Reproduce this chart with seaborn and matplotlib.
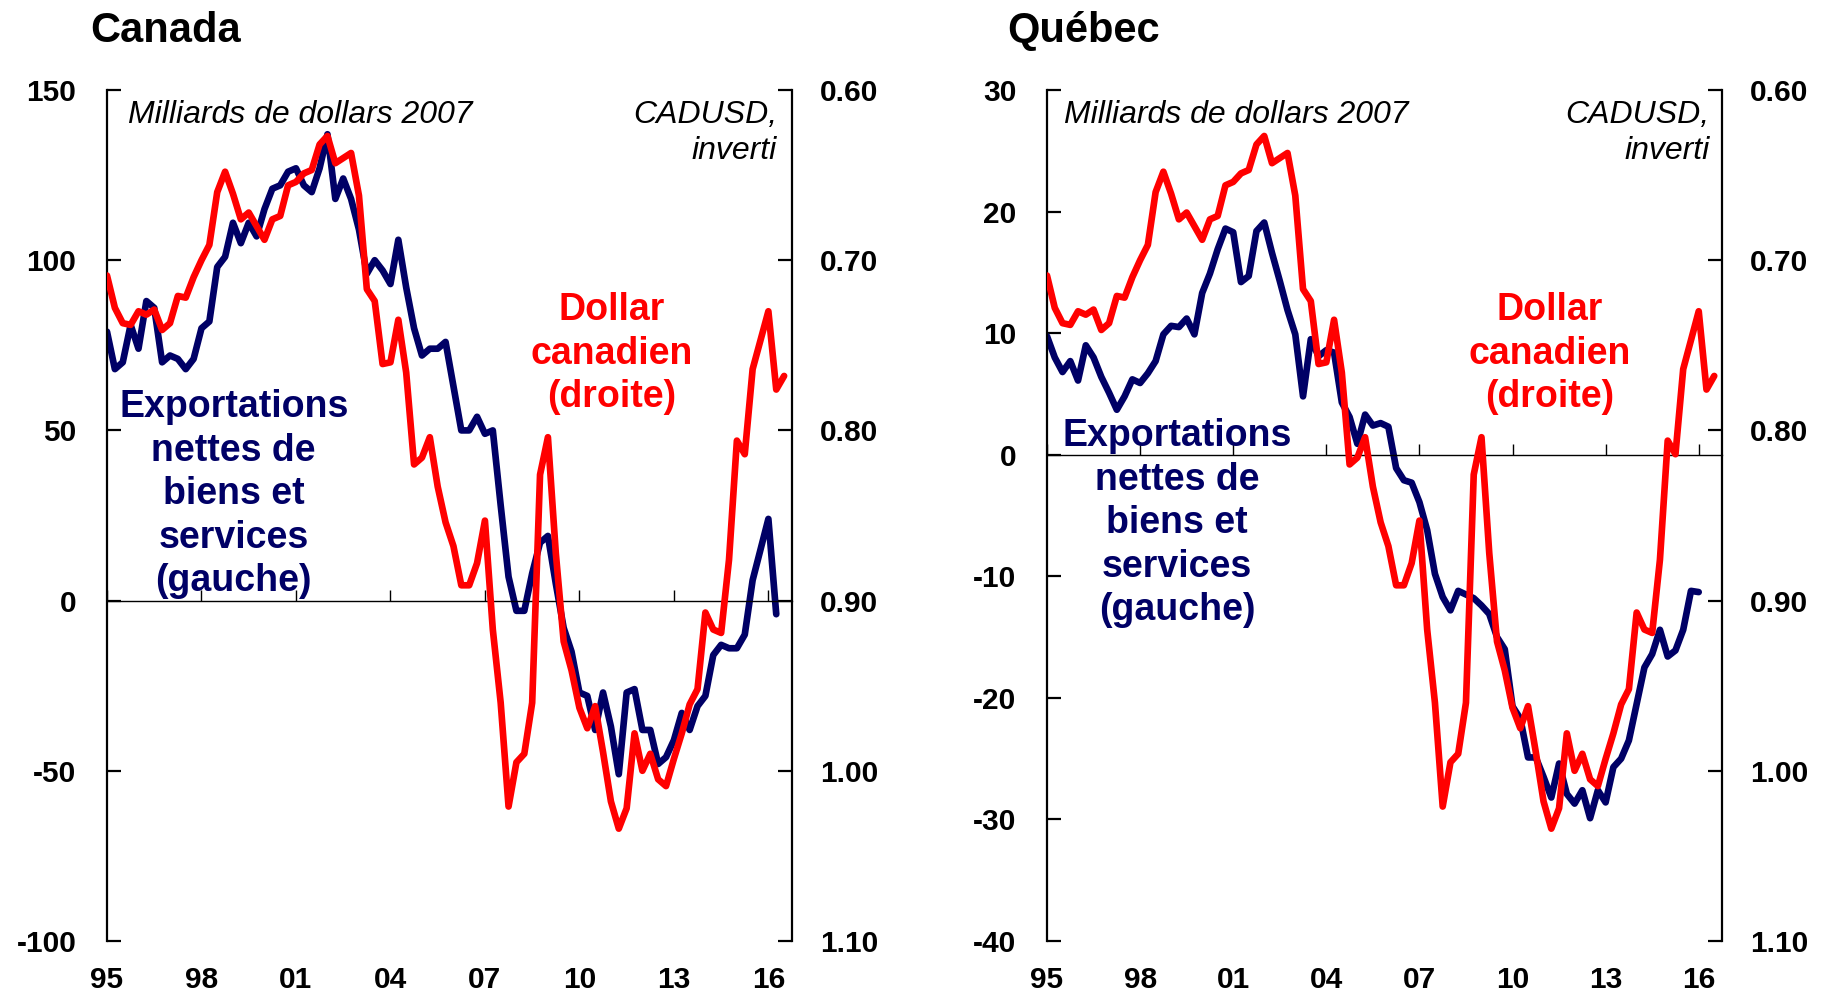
import numpy as np
import pandas as pd
import matplotlib
matplotlib.use('Agg')
import matplotlib.pyplot as plt
import seaborn as sns

# quarterly series, first point = 1995Q1
canada_nx = [79, 68, 70, 81, 74, 88, 86, 70, 72, 71,
             68, 71, 80, 82, 98, 101, 111, 105, 111, 107,
             115, 121, 122, 126, 127, 122, 120, 127, 137, 118,
             124, 118, 109, 96, 100, 97, 93, 106, 92, 80,
             72, 74, 74, 76, 63, 50, 50, 54, 49, 50,
             28, 7, -3, -3, 8, 17, 19, 5, -8, -15,
             -27, -28, -38, -27, -37, -51, -27, -26, -38, -38,
             -48, -46, -41, -33, -38, -31, -28, -16, -13, -14,
             -14, -10, 6, 15, 24, -4]

quebec_nx = [9.75, 8.0, 6.8, 7.7, 6.1, 9.0, 8.0, 6.4, 5.1, 3.7,
             4.8, 6.2, 5.9, 6.7, 7.7, 9.9, 10.6, 10.5, 11.2, 9.9,
             13.3, 14.9, 16.9, 18.6, 18.3, 14.2, 14.7, 18.4, 19.1, 16.6,
             14.3, 11.9, 9.9, 4.8, 9.5, 8.1, 8.6, 8.4, 4.3, 3.1,
             0.9, 3.3, 2.4, 2.6, 2.3, -1.1, -2.1, -2.3, -3.9, -6.2,
             -9.8, -11.7, -12.8, -11.2, -11.5, -11.8, -12.4, -13.1, -15.0, -16.0,
             -20.7, -21.7, -24.9, -24.9, -26.5, -28.2, -25.4, -27.9, -28.7, -27.6,
             -29.9, -27.6, -28.6, -25.7, -25.0, -23.5, -20.5, -17.5, -16.4, -14.4,
             -16.6, -16.1, -14.4, -11.2, -11.3]

cadusd = [0.709, 0.728, 0.737, 0.738, 0.730, 0.732, 0.729, 0.741, 0.737, 0.721,
          0.722, 0.710, 0.700, 0.691, 0.660, 0.648, 0.661, 0.676, 0.672, 0.680,
          0.688, 0.676, 0.674, 0.656, 0.654, 0.649, 0.647, 0.632, 0.627, 0.643,
          0.640, 0.637, 0.662, 0.717, 0.724, 0.761, 0.760, 0.735, 0.766, 0.820,
          0.816, 0.804, 0.833, 0.854, 0.868, 0.891, 0.891, 0.878, 0.853, 0.917,
          0.960, 1.021, 0.995, 0.990, 0.960, 0.826, 0.804, 0.872, 0.924, 0.941,
          0.963, 0.975, 0.962, 0.989, 1.018, 1.034, 1.022, 0.978, 1.000, 0.990,
          1.005, 1.009, 0.993, 0.978, 0.961, 0.952, 0.907, 0.917, 0.919, 0.876,
          0.806, 0.814, 0.764, 0.747, 0.730, 0.776, 0.768]

year_ticks = [1995, 1998, 2001, 2004, 2007, 2010, 2013, 2016]
year_labels = ['95', '98', '01', '04', '07', '10', '13', '16']
fx_ticks = [0.60, 0.70, 0.80, 0.90, 1.00, 1.10]

navy = '#000066'
red = '#ff0000'

sns.set_style('white')
plt.rcParams['font.family'] = ['Liberation Sans', 'DejaVu Sans']
plt.rcParams['text.color'] = 'black'
plt.rcParams['xtick.color'] = 'black'
plt.rcParams['ytick.color'] = 'black'
plt.rcParams['axes.labelcolor'] = 'black'

W, H = 1831, 994


def quarters(n):
    return 1995 + np.arange(n) / 4


def panel(ax, nx, ylim, yticks, title, title_x, exp_pos, dol_pos, mil_x, cad_x):
    df_nx = pd.DataFrame({'date': quarters(len(nx)), 'value': nx})
    df_fx = pd.DataFrame({'date': quarters(len(cadusd)), 'value': cadusd})

    sns.lineplot(data=df_nx, x='date', y='value', ax=ax, color=navy, linewidth=4.8)
    ax2 = ax.twinx()
    sns.lineplot(data=df_fx, x='date', y='value', ax=ax2, color=red, linewidth=4.8)

    ax.set_xlim(1995, 2016.75)
    ax.set_ylim(*ylim)
    ax2.set_ylim(1.10, 0.60)
    ax.set_xlabel('')
    ax.set_ylabel('')
    ax2.set_ylabel('')

    for s in ['top', 'right']:
        ax.spines[s].set_visible(False)
    for s in ['top', 'left', 'bottom']:
        ax2.spines[s].set_visible(False)
    ax.spines['left'].set_linewidth(1.6)
    ax2.spines['right'].set_linewidth(1.6)
    ax.spines['bottom'].set_position(('data', 0))
    ax.spines['bottom'].set_linewidth(1.0)
    for sp in [ax.spines['left'], ax.spines['bottom'], ax2.spines['right']]:
        sp.set_color('black')

    ax.set_yticks(yticks, labels=[str(t) for t in yticks], fontweight='bold')
    ax.tick_params(axis='y', direction='in', length=10, width=1.6, pad=22,
                   labelsize=21.5, left=True, color='black', labelcolor='black')
    ax2.set_yticks(fx_ticks, labels=[f'{t:.2f}' for t in fx_ticks], fontweight='bold')
    ax2.tick_params(axis='y', direction='in', length=10, width=1.6, pad=20,
                    labelsize=21.5, right=True, color='black', labelcolor='black')

    ax.set_xticks(year_ticks)
    ax.tick_params(axis='x', direction='in', length=8, width=1.0, bottom=True,
                   labelbottom=False, color='black')
    sec = ax.secondary_xaxis('bottom')
    sec.set_xticks(year_ticks, labels=year_labels, fontweight='bold')
    sec.tick_params(length=0, pad=18, labelsize=21.5, labelcolor='black')
    sec.spines['bottom'].set_visible(False)

    ax.text(mil_x, 0.988, 'Milliards de dollars 2007', transform=ax.transAxes,
            ha='left', va='top', fontsize=23, style='italic', color='black')
    ax.text(cad_x, 0.988, 'CADUSD,\ninverti', transform=ax.transAxes,
            ha='right', va='top', fontsize=23, style='italic', color='black',
            multialignment='right', linespacing=1.25)
    ax.text(exp_pos[0], exp_pos[1], 'Exportations\nnettes de\nbiens et\nservices\n(gauche)',
            transform=ax.transAxes, ha='center', va='center', fontsize=27,
            fontweight='bold', color=navy, linespacing=1.27)
    ax.text(dol_pos[0], dol_pos[1], 'Dollar\ncanadien\n(droite)',
            transform=ax.transAxes, ha='center', va='center', fontsize=27,
            fontweight='bold', color=red, linespacing=1.27)

    fig.text(title_x, 1 - 42 / H, title, ha='left', va='baseline',
             fontsize=30, fontweight='bold', color='black')


fig = plt.figure(figsize=(W / 100, H / 100), dpi=100)
ax_ca = fig.add_axes([107 / W, 53 / H, 685 / W, 851 / H])
ax_qc = fig.add_axes([1047 / W, 53 / H, 675 / W, 851 / H])

panel(ax_ca, canada_nx, (-100, 150), list(range(-100, 151, 50)), 'Canada', 90 / W,
      (0.185, 0.525), (0.737, 0.690), 0.031, 0.978)
panel(ax_qc, quebec_nx, (-40, 30), list(range(-40, 31, 10)), 'Québec', 1007 / W,
      (0.193, 0.491), (0.745, 0.690), 0.025, 0.982)

fig.savefig('out.png', dpi=100)
